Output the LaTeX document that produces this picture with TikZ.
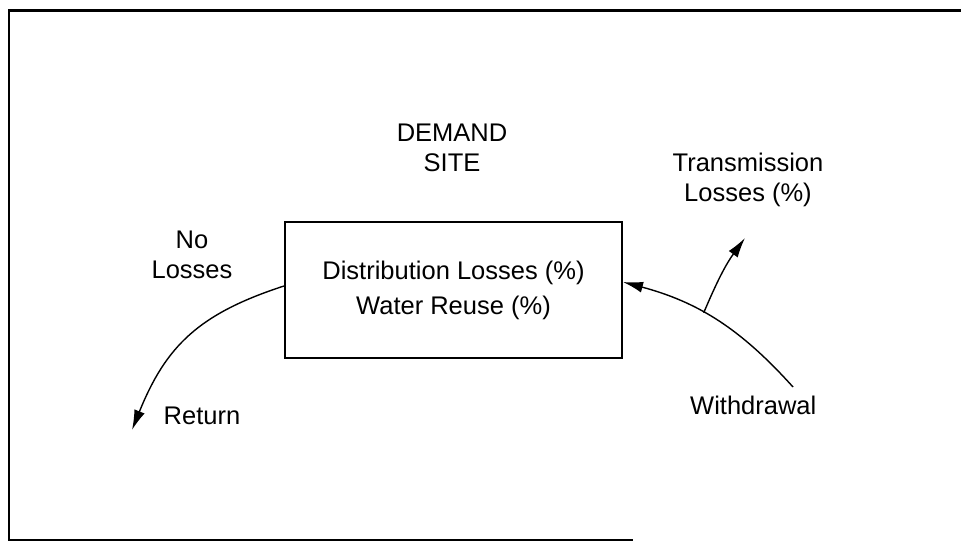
\documentclass[tikz,border=0pt]{standalone}
\usepackage{fontspec}
\setmainfont{Liberation Sans}
\usetikzlibrary{arrows.meta}
\def\flow{\draw[line width=1.4pt,-{Latex[length=20pt,width=11pt]}]}

\begin{document}
\begin{tikzpicture}[x=1pt,y=1pt,
    lbl/.style={font=\fontsize{25.5}{30}\selectfont,align=center,inner sep=0pt},
    site/.style={draw,line width=2pt,minimum width=337pt,minimum height=136pt,
      inner sep=0pt,font=\fontsize{25.5}{35}\selectfont,align=center}]
  \useasboundingbox (0,0) rectangle (961,541);
  \draw[line width=2.5pt] (961,530.5) -- (9,530.5) -- (9,1) -- (633,1);

  \node[site] (box) at (453.5,251) {Distribution Losses (\%)\\Water Reuse (\%)};
  \node[lbl] (dsite) at (452,393) {DEMAND\\SITE};
  \node[lbl] (tloss) at (748,361) {Transmission\\Losses (\%)};
  \node[lbl] (noloss) at (192,286) {No\\Losses};
  \node[lbl] (ret) at (202,125) {Return};
  \node[lbl,anchor=west] (wdr) at (690,136) {Withdrawal};

  \coordinate (retend) at (132,111);
  \coordinate (wdstart) at (793,154);
  \coordinate (tltip) at (745,303);

  \flow ([yshift=4pt]box.west) to[out=198,in=68,looseness=1.1] (retend);
  \flow (wdstart) to[out=132,in=-15] coordinate[pos=0.58] (split) ([yshift=8pt]box.east);
  \flow (split) to[out=67,in=234] (tltip);
\end{tikzpicture}
\end{document}
